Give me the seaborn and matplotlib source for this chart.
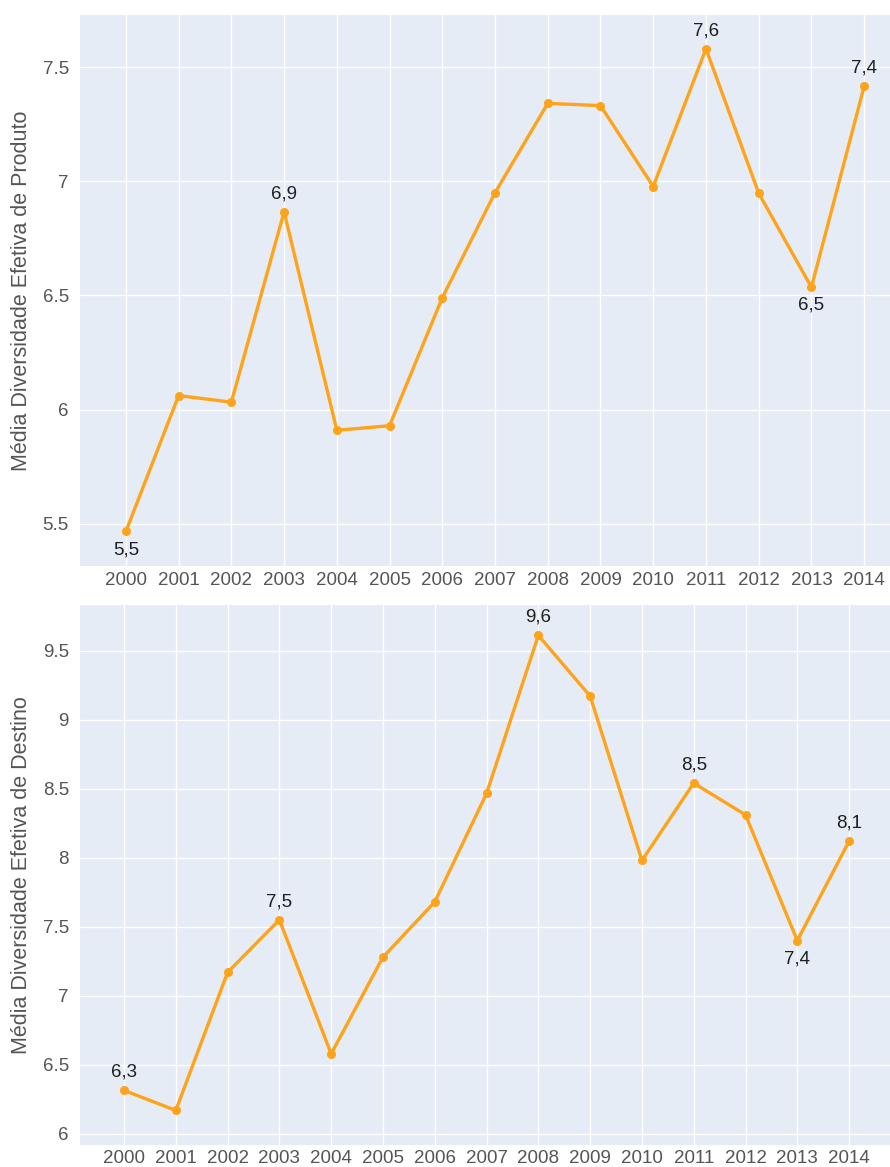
import numpy as np
import pandas as pd
import matplotlib
matplotlib.use("Agg")
import matplotlib.pyplot as plt
import seaborn as sns
from matplotlib.ticker import FuncFormatter

# data
anos = list(range(2000, 2015))
produto = [5.467, 6.062, 6.033, 6.866, 5.91, 5.93, 6.49, 6.95, 7.341, 7.331,
           6.977, 7.58, 6.948, 6.536, 7.416]
destino = [6.315, 6.17, 7.17, 7.55, 6.58, 7.28, 7.68, 8.465, 9.61, 9.17,
           7.98, 8.54, 8.31, 7.40, 8.12]

# which points get a label, and whether it sits above (1) or below (-1)
rotulos_produto = {2000: -1, 2003: 1, 2011: 1, 2013: -1, 2014: 1}
rotulos_destino = {2000: 1, 2003: 1, 2008: 1, 2011: 1, 2013: -1, 2014: 1}

sns.set_theme(style="whitegrid")
plt.rcParams['font.family'] = ['Liberation Sans', 'DejaVu Sans']

fig = plt.figure(figsize=(8.9, 11.67), dpi=100)
ax1 = fig.add_axes([0.0899, 0.515, 0.9101, 0.472])
ax2 = fig.add_axes([0.0899, 0.0189, 0.9101, 0.4627])

df = pd.DataFrame({"ano": anos, "produto": produto, "destino": destino})
laranja = "#FFA31A"


def desenha(ax, col, rotulos, ylabel, xlim, ylim, yticks):
    ax.set_facecolor("#E5ECF6")
    sns.lineplot(data=df, x="ano", y=col, ax=ax, color=laranja, lw=2.4,
                 marker="o", markersize=6.5, markeredgewidth=0)
    for ano, lado in rotulos.items():
        v = df.loc[df.ano == ano, col].iloc[0]
        txt = f"{v:.1f}".replace(".", ",")
        ax.annotate(txt, (ano, v), textcoords="offset points",
                    xytext=(0, 7 * lado), ha="center",
                    va="bottom" if lado > 0 else "top",
                    fontsize=13.5, color="#1f1f1f")
    ax.set_xlim(*xlim)
    ax.set_ylim(*ylim)
    ax.set_xticks(anos)
    ax.set_yticks(yticks)
    ax.yaxis.set_major_formatter(FuncFormatter(lambda v, p: f"{v:g}"))
    ax.grid(True, color="white", lw=1.0)
    for s in ax.spines.values():
        s.set_visible(False)
    ax.tick_params(axis="x", length=0, pad=4, labelsize=13.5, colors="#555555")
    ax.tick_params(axis="y", length=0, pad=8, labelsize=13.5, colors="#555555")
    ax.set_xlabel("")
    ax.set_ylabel(ylabel, fontsize=15.5, color="#555555", labelpad=8)


desenha(ax1, "produto", rotulos_produto, "Média Diversidade Efetiva de Produto",
        (1999.13, 2014.49), (5.316, 7.727), [5.5, 6, 6.5, 7, 7.5])
desenha(ax2, "destino", rotulos_destino, "Média Diversidade Efetiva de Destino",
        (1999.15, 2014.79), (5.92, 9.83), [6, 6.5, 7, 7.5, 8, 8.5, 9, 9.5])

fig.savefig("out.png", dpi=100)
